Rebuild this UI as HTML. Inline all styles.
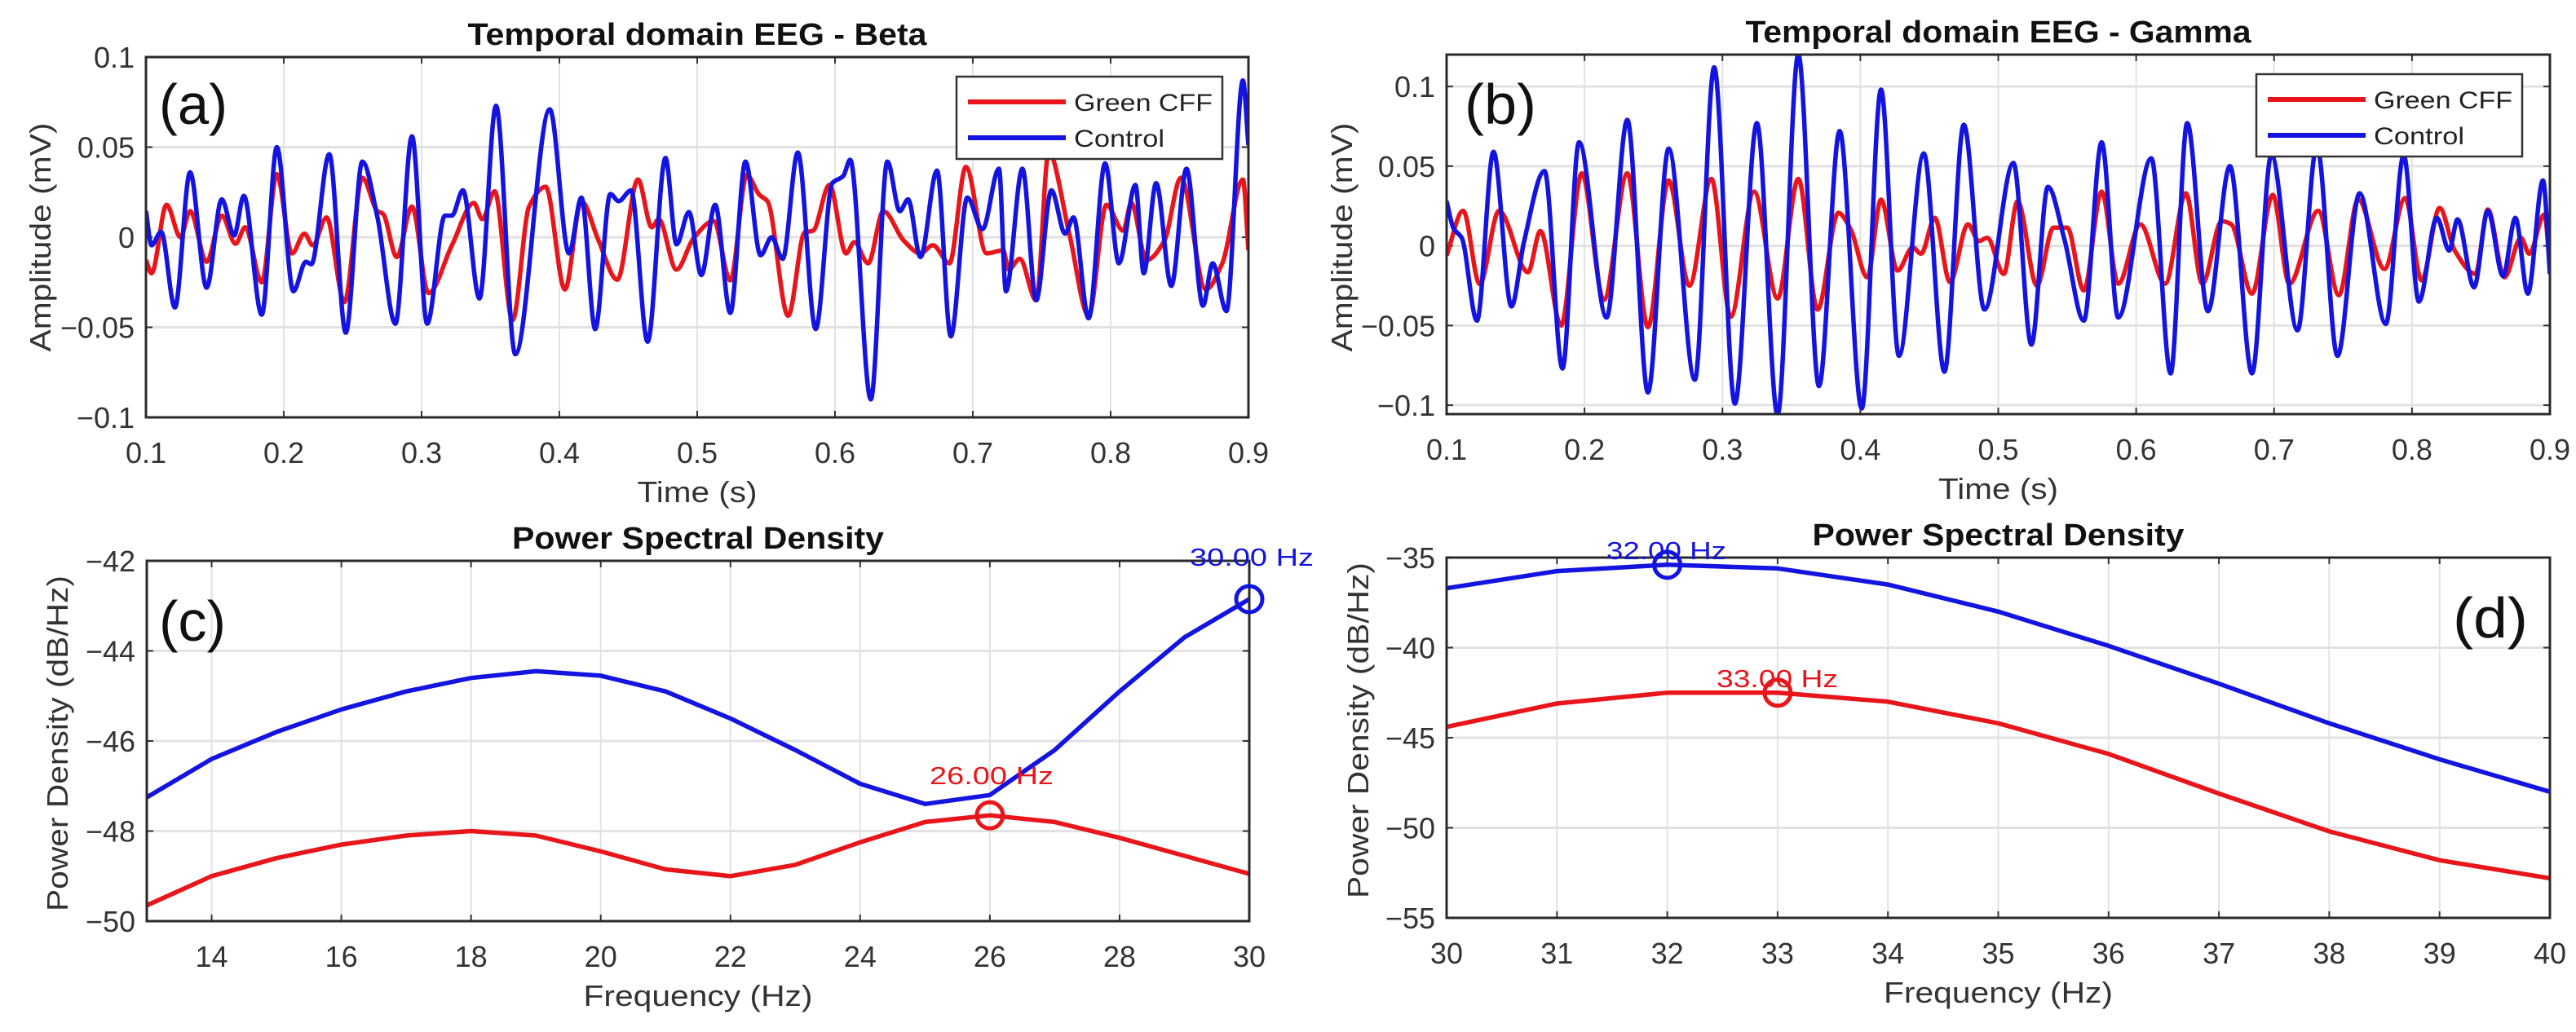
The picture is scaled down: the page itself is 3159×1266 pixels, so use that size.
<!DOCTYPE html>
<html><head><meta charset="utf-8"><title>EEG Beta/Gamma temporal and PSD</title>
<style>
html,body{margin:0;padding:0;background:#fff;}
svg{display:block;font-family:"Liberation Sans",Arial,sans-serif;}
.tick{font-size:36px;fill:#333;}
.ttl{font-size:38px;font-weight:bold;fill:#111;}
.axl{font-size:36px;fill:#333;}
.lg{font-size:30px;fill:#222;}
.pl{font-size:70px;fill:#111;}
.ann{font-size:31px;}
</style></head>
<body>
<svg id="fig" width="3159" height="1266" viewBox="0 0 3159 1266" xmlns="http://www.w3.org/2000/svg"></svg>
<script>
// ---------- Panel (a): Beta temporal ----------
const aBlueT=[0.100,0.104,0.111,0.121,0.132,0.144,0.155,0.164,0.171,0.184,0.195,0.207,0.216,0.220,0.233,0.245,0.257,0.268,0.281,0.293,0.304,0.317,0.322,0.330,0.342,0.354,0.368,0.393,0.407,0.416,0.426,0.437,0.443,0.452,0.464,0.477,0.485,0.494,0.503,0.513,0.524,0.535,0.546,0.554,0.562,0.573,0.586,0.598,0.606,0.611,0.626,0.638,0.647,0.653,0.662,0.674,0.684,0.696,0.707,0.719,0.724,0.736,0.746,0.757,0.767,0.773,0.784,0.796,0.806,0.818,0.824,0.833,0.844,0.855,0.867,0.874,0.884,0.896,0.900];
const aBlueV=[0.0145,-0.0045,0.003,-0.039,0.036,-0.028,0.021,0.001,0.023,-0.043,0.050,-0.030,-0.0136,-0.015,0.046,-0.053,0.042,0.011,-0.048,0.056,-0.048,0.012,0.012,0.026,-0.034,0.073,-0.065,0.071,-0.009,0.022,-0.051,0.024,0.020,0.026,-0.058,0.044,-0.004,0.014,-0.021,0.018,-0.042,0.042,-0.01,0.000,-0.012,0.047,-0.051,0.030,0.034,0.043,-0.090,0.042,0.0145,0.021,-0.011,0.037,-0.055,0.022,0.0045,0.038,-0.030,0.038,-0.035,0.026,0.002,0.011,-0.045,0.041,-0.0145,0.029,-0.020,0.030,-0.027,0.038,-0.038,-0.0145,-0.041,0.087,0.051];
const aRedT=[0.100,0.104,0.115,0.125,0.132,0.144,0.155,0.165,0.172,0.184,0.195,0.206,0.215,0.221,0.231,0.244,0.257,0.268,0.272,0.282,0.293,0.305,0.322,0.338,0.344,0.353,0.366,0.378,0.390,0.404,0.416,0.428,0.442,0.457,0.467,0.472,0.485,0.497,0.512,0.524,0.536,0.545,0.551,0.566,0.578,0.584,0.596,0.608,0.614,0.624,0.635,0.650,0.662,0.671,0.683,0.695,0.710,0.722,0.726,0.734,0.746,0.755,0.770,0.784,0.797,0.809,0.815,0.826,0.839,0.851,0.869,0.881,0.896,0.900];
const aRedV=[-0.0127,-0.020,0.018,0.0,0.0145,-0.0136,0.012,-0.0036,0.0055,-0.025,0.035,-0.009,0.002,-0.0045,0.011,-0.036,0.033,0.0145,0.013,-0.011,0.017,-0.031,-0.0045,0.019,0.010,0.0255,-0.046,0.017,0.028,-0.029,0.020,-0.001,-0.0236,0.032,0.0055,0.010,-0.018,-0.001,0.009,-0.024,0.0345,0.0236,0.020,-0.0436,0.0027,0.0036,0.029,-0.009,-0.0027,-0.0145,0.0145,-0.002,-0.009,-0.0045,-0.0145,0.039,-0.009,-0.0073,-0.018,-0.012,-0.035,0.047,0.002,-0.0436,0.018,0.0036,0.019,-0.0127,-0.002,0.033,-0.029,-0.0145,0.032,-0.0073];
// ---------- Panel (b): Gamma temporal ----------
const bBlueT=[0.100,0.105,0.111,0.122,0.134,0.147,0.156,0.171,0.184,0.196,0.216,0.231,0.246,0.261,0.280,0.294,0.309,0.325,0.340,0.355,0.370,0.385,0.401,0.415,0.428,0.446,0.461,0.475,0.490,0.511,0.524,0.536,0.548,0.562,0.575,0.587,0.611,0.625,0.637,0.652,0.668,0.684,0.698,0.717,0.731,0.746,0.762,0.781,0.794,0.805,0.818,0.827,0.833,0.845,0.855,0.866,0.875,0.884,0.895,0.900];
const bBlueV=[0.028,0.011,0.005,-0.047,0.059,-0.038,0.002,0.047,-0.077,0.065,-0.045,0.079,-0.092,0.061,-0.084,0.112,-0.099,0.077,-0.106,0.12,-0.088,0.072,-0.102,0.098,-0.069,0.058,-0.079,0.076,-0.040,0.052,-0.062,0.037,0.004,-0.047,0.065,-0.045,0.055,-0.080,0.077,-0.041,0.050,-0.080,0.057,-0.053,0.063,-0.069,0.033,-0.049,0.057,-0.035,0.0176,-0.003,0.0166,-0.026,0.022,-0.019,0.0176,-0.030,0.041,-0.0176];
const bRedT=[0.100,0.112,0.124,0.138,0.159,0.168,0.183,0.198,0.214,0.231,0.246,0.261,0.276,0.292,0.306,0.323,0.340,0.355,0.369,0.384,0.393,0.405,0.415,0.427,0.438,0.444,0.454,0.465,0.478,0.486,0.492,0.504,0.514,0.528,0.540,0.550,0.562,0.575,0.587,0.603,0.621,0.636,0.648,0.662,0.669,0.684,0.699,0.711,0.732,0.747,0.761,0.780,0.795,0.807,0.820,0.831,0.846,0.855,0.867,0.879,0.885,0.896,0.900];
const bRedV=[-0.006,0.022,-0.024,0.022,-0.0166,0.0093,-0.050,0.0455,-0.034,0.0455,-0.051,0.041,-0.025,0.042,-0.0445,0.034,-0.033,0.042,-0.040,0.0207,0.0104,-0.0197,0.029,-0.0155,-0.001,-0.005,0.0176,-0.0228,0.0135,0.003,0.005,-0.0176,0.028,-0.025,0.0114,0.0114,-0.028,0.034,-0.0238,0.0135,-0.0238,0.033,-0.0238,0.0155,0.0135,-0.030,0.032,-0.0238,0.022,-0.031,0.029,-0.0145,0.030,-0.0217,0.0238,-0.003,-0.0176,0.0228,-0.0197,0.005,-0.005,0.0197,-0.0114];
// ---------- Panel (c): Beta PSD ----------
const cFreq=[13,14,15,16,17,18,19,20,21,22,23,24,25,26,27,28,29,30];
const cBlue=[-47.25,-46.4,-45.8,-45.3,-44.9,-44.6,-44.45,-44.55,-44.9,-45.5,-46.2,-46.95,-47.4,-47.2,-46.2,-44.9,-43.7,-42.85];
const cRed=[-49.65,-49.0,-48.6,-48.3,-48.1,-48.0,-48.1,-48.45,-48.85,-49.0,-48.75,-48.25,-47.8,-47.65,-47.8,-48.15,-48.55,-48.95];
const cPeakBlue=[30,-42.85], cPeakRed=[26,-47.65];
// ---------- Panel (d): Gamma PSD ----------
const dFreq=[30,31,32,33,34,35,36,37,38,39,40];
const dBlue=[-36.7,-35.75,-35.4,-35.6,-36.5,-38.0,-39.9,-42.0,-44.2,-46.2,-48.0];
const dRed=[-44.4,-43.1,-42.5,-42.5,-43.0,-44.2,-45.9,-48.1,-50.2,-51.8,-52.8];
const dPeakBlue=[32,-35.4], dPeakRed=[33,-42.5];
// ticks
const tTicks=[0.1,0.2,0.3,0.4,0.5,0.6,0.7,0.8,0.9];
const tTickLabels=["0.1","0.2","0.3","0.4","0.5","0.6","0.7","0.8","0.9"];
const ampTicks=[-0.1,-0.05,0,0.05,0.1];
const ampTickLabels=["\u22120.1","\u22120.05","0","0.05","0.1"];
const cXTicks=[14,16,18,20,22,24,26,28,30];
const cYTicks=[-50,-48,-46,-44,-42];
const dXTicks=[30,31,32,33,34,35,36,37,38,39,40];
const dYTicks=[-55,-50,-45,-40,-35];

const NS="http://www.w3.org/2000/svg";
const svg=document.getElementById('fig');
const RED="#e8161b", BLUE="#1414e0";
function mk(tag,attrs,parent){const e=document.createElementNS(NS,tag);for(const k in attrs)e.setAttribute(k,attrs[k]);(parent||svg).appendChild(e);return e;}
function fmtNeg(v){return v<0?"\u2212"+Math.abs(v):String(v);}
function monoPath(px,py){
  const n=px.length;const d=[],m=[];
  for(let i=0;i<n-1;i++)d.push((py[i+1]-py[i])/(px[i+1]-px[i]));
  m[0]=d[0];m[n-1]=d[n-2];
  for(let i=1;i<n-1;i++){
    if(d[i-1]*d[i]<=0)m[i]=0;else{const h0=px[i]-px[i-1],h1=px[i+1]-px[i];const w1=2*h1+h0,w2=h1+2*h0;m[i]=(w1+w2)/(w1/d[i-1]+w2/d[i]);}
  }
  let s="M"+px[0].toFixed(1)+","+py[0].toFixed(1);
  for(let i=0;i<n-1;i++){const h=px[i+1]-px[i];
    s+="C"+(px[i]+h/3).toFixed(1)+","+(py[i]+m[i]*h/3).toFixed(1)+" "+(px[i+1]-h/3).toFixed(1)+","+(py[i+1]-m[i+1]*h/3).toFixed(1)+" "+px[i+1].toFixed(1)+","+py[i+1].toFixed(1);}
  return s;
}
let clipN=0;
function panel(cfg){
  const g=mk('g',{});
  
  
  const X=v=>cfg.x0+(v-cfg.xd[0])/(cfg.xd[1]-cfg.xd[0])*(cfg.x1-cfg.x0);
  const Y=v=>cfg.y1-(v-cfg.yd[0])/(cfg.yd[1]-cfg.yd[0])*(cfg.y1-cfg.y0);
  cfg.X=X;cfg.Y=Y;
  mk('rect',{x:cfg.x0,y:cfg.y0,width:cfg.x1-cfg.x0,height:cfg.y1-cfg.y0,fill:'#fff'},g);
  cfg.xt.forEach((v,i)=>{const x=X(v);
    const gl=mk('line',{x1:x,x2:x,y1:cfg.y0,y2:cfg.y1,stroke:'#e2e2e2','stroke-width':2},g);
    
    const t=mk('text',{x:x,y:cfg.y1+56,'text-anchor':'middle',class:'tick'},g);t.textContent=cfg.xl[i];
    
    mk('line',{x1:x,x2:x,y1:cfg.y1,y2:cfg.y1-8,stroke:'#333','stroke-width':2},g);
    mk('line',{x1:x,x2:x,y1:cfg.y0,y2:cfg.y0+8,stroke:'#333','stroke-width':2},g);
  });
  cfg.yt.forEach((v,i)=>{const y=Y(v);
    const gl=mk('line',{x1:cfg.x0,x2:cfg.x1,y1:y,y2:y,stroke:'#e2e2e2','stroke-width':3},g);
    
    const t=mk('text',{x:cfg.x0-14,y:y+13,'text-anchor':'end',class:'tick'},g);t.textContent=cfg.yl[i];
    
    mk('line',{x1:cfg.x0,x2:cfg.x0+8,y1:y,y2:y,stroke:'#333','stroke-width':2},g);
    mk('line',{x1:cfg.x1,x2:cfg.x1-8,y1:y,y2:y,stroke:'#333','stroke-width':2},g);
  });
  const cid='clip'+(clipN++);
  const cp=mk('clipPath',{id:cid},g);mk('rect',{x:cfg.x0,y:cfg.y0,width:cfg.x1-cfg.x0,height:cfg.y1-cfg.y0},cp);
  const sg=mk('g',{'clip-path':'url(#'+cid+')'},g);
  cfg.series.forEach(s=>{
    const p=mk('path',{d:s.smooth?monoPath(s.x.map(X),s.y.map(Y)):('M'+s.x.map((v,i)=>X(v).toFixed(1)+','+Y(s.y[i]).toFixed(1)).join('L')),fill:'none',stroke:s.c,'stroke-width':5.5,'stroke-linejoin':'round'},sg);
    
  });
  const box=mk('rect',{x:cfg.x0,y:cfg.y0,width:cfg.x1-cfg.x0,height:cfg.y1-cfg.y0,fill:'none',stroke:'#2a2a2a','stroke-width':3},g);
  
  const cx=(cfg.x0+cfg.x1)/2;
  const tt=mk('text',{x:cx,y:cfg.y0-15,'text-anchor':'middle',class:'ttl',textLength:cfg.tl,lengthAdjust:'spacingAndGlyphs'},g);tt.textContent=cfg.title;
  
  const xl=mk('text',{x:cx,y:cfg.y1+104,'text-anchor':'middle',class:'axl',textLength:cfg.xll,lengthAdjust:'spacingAndGlyphs'},g);xl.textContent=cfg.xlab;
  
  const yc=cfg.ylc;
  const yl=mk('text',{x:0,y:0,'text-anchor':'middle',class:'axl',textLength:cfg.yll,lengthAdjust:'spacingAndGlyphs',transform:'translate('+(cfg.ylx+12)+','+yc+') rotate(-90)'},g);yl.textContent=cfg.ylab;
  
  const pl=mk('text',{x:cfg.plx,y:cfg.ply,class:'pl',textLength:cfg.pll,lengthAdjust:'spacingAndGlyphs'},g);pl.textContent=cfg.label;
  
  return g;
}
function legend(g,x,y){
  const lg=mk('g',{},g);
  
  mk('rect',{x:x,y:y,width:326,height:101,fill:'#fff',stroke:'#333','stroke-width':2.5},lg);
  [[RED,'Green CFF',31],[BLUE,'Control',75]].forEach(e=>{
    const le=mk('g',{},lg);
    
    mk('line',{x1:x+14,x2:x+134,y1:y+e[2],y2:y+e[2],stroke:e[0],'stroke-width':6},le);
    const t=mk('text',{x:x+144,y:y+e[2]+11,class:'lg',textLength:e[1].length>7?170:111,lengthAdjust:'spacingAndGlyphs'},le);t.textContent=e[1];
  });
}
function marker(cfg,g,pt,col,label,lx,ly,ll){
  const c=mk('circle',{cx:cfg.X(pt[0]),cy:cfg.Y(pt[1]),r:16,fill:'none',stroke:col,'stroke-width':5},g);
  
  const t=mk('text',{x:lx,y:ly,class:'ann',fill:col,textLength:ll,lengthAdjust:'spacingAndGlyphs'},g);t.textContent=label;
  
}
const A={name:'panel-a-beta-temporal',x0:179,x1:1531,y0:70,y1:512,xd:[0.1,0.9],yd:[-0.1,0.1],xt:tTicks,xl:tTickLabels,yt:ampTicks,yl:ampTickLabels,
 title:'Temporal domain EEG - Beta',tl:563,xlab:'Time (s)',xll:147,ylab:'Amplitude (mV)',yll:281,ylx:50,ylc:291,label:'(a)',plx:195,ply:152,pll:84,
 series:[{x:aRedT,y:aRedV,c:RED,n:'green-cff-line',smooth:true},{x:aBlueT,y:aBlueV,c:BLUE,n:'control-line',smooth:true}]};
const gA=panel(A);legend(gA,1173,94);
const B={name:'panel-b-gamma-temporal',x0:1774,x1:3127,y0:67,y1:508,xd:[0.1,0.9],yd:[-0.1056,0.12],xt:tTicks,xl:tTickLabels,yt:ampTicks,yl:ampTickLabels,
 title:'Temporal domain EEG - Gamma',tl:620,xlab:'Time (s)',xll:147,ylab:'Amplitude (mV)',yll:281,ylx:1646,ylc:291,label:'(b)',plx:1796,ply:152,pll:88,
 series:[{x:bRedT,y:bRedV,c:RED,n:'green-cff-line',smooth:true},{x:bBlueT,y:bBlueV,c:BLUE,n:'control-line',smooth:true}]};
const gB=panel(B);legend(gB,2767,91);
const C={name:'panel-c-beta-psd',x0:180,x1:1532,y0:688,y1:1130,xd:[13,30],yd:[-50,-42],xt:cXTicks,xl:cXTicks.map(String),yt:cYTicks,yl:cYTicks.map(fmtNeg),
 title:'Power Spectral Density',tl:456,xlab:'Frequency (Hz)',xll:281,ylab:'Power Density (dB/Hz)',yll:412,ylx:71,ylc:912,label:'(c)',plx:195,ply:786,pll:82,
 series:[{x:cFreq,y:cRed,c:RED,n:'green-cff-psd-line'},{x:cFreq,y:cBlue,c:BLUE,n:'control-psd-line'}]};
const gC=panel(C);
marker(C,gC,cPeakRed,RED,'26.00 Hz',1140,962,152);
marker(C,gC,cPeakBlue,BLUE,'30.00 Hz',1459,694,152);
const D={name:'panel-d-gamma-psd',x0:1774,x1:3127,y0:684,y1:1126,xd:[30,40],yd:[-55,-35],xt:dXTicks,xl:dXTicks.map(String),yt:dYTicks,yl:dYTicks.map(fmtNeg),
 title:'Power Spectral Density',tl:456,xlab:'Frequency (Hz)',xll:281,ylab:'Power Density (dB/Hz)',yll:412,ylx:1666,ylc:896,label:'(d)',plx:3008,ply:782,pll:92,
 series:[{x:dFreq,y:dRed,c:RED,n:'green-cff-psd-line'},{x:dFreq,y:dBlue,c:BLUE,n:'control-psd-line'}]};
const gD=panel(D);
marker(D,gD,dPeakBlue,BLUE,'32.00 Hz',1970,686,147);
marker(D,gD,dPeakRed,RED,'33.00 Hz',2105,843,149);
</script>
</body></html>
